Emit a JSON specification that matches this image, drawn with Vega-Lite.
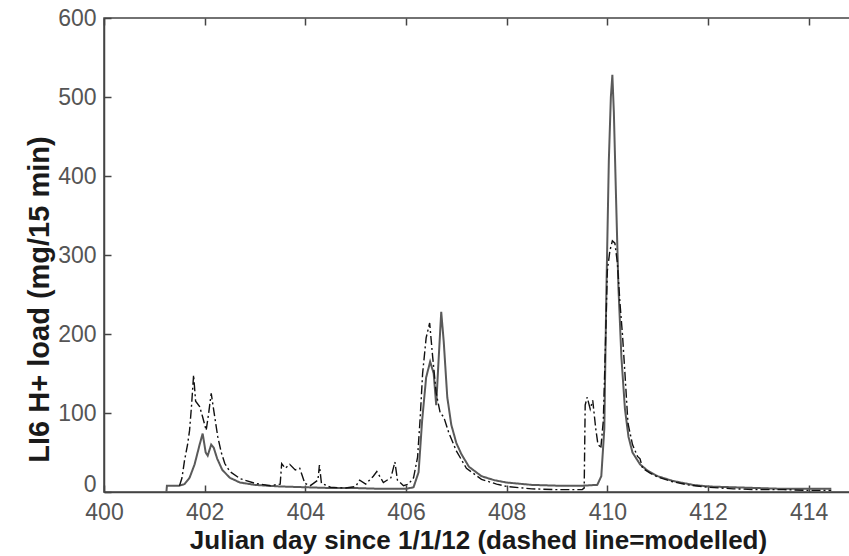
{
  "$schema": "https://vega.github.io/schema/vega-lite/v6.json",
  "width": 755,
  "height": 474,
  "autosize": "none",
  "padding": {"left": 104, "top": 18, "right": 0, "bottom": 64},
  "background": "white",
  "config": {
    "view": {"stroke": "#444", "strokeWidth": 1.5},
    "font": "Liberation Sans",
    "axis": {
      "grid": false,
      "domainColor": "#444",
      "domainWidth": 1.5,
      "tickColor": "#444",
      "tickWidth": 1.5,
      "tickSize": -7,
      "labelFont": "Liberation Sans",
      "labelFontSize": 23,
      "labelColor": "#555",
      "titleFont": "Liberation Sans",
      "titleFontWeight": "bold",
      "titleColor": "#1a1a1a"
    }
  },
  "data": {
    "values": [
      {"series": "observed", "day": 401.24, "load": 0},
      {"series": "observed", "day": 401.25, "load": 8},
      {"series": "observed", "day": 401.5, "load": 8},
      {"series": "observed", "day": 401.6, "load": 10},
      {"series": "observed", "day": 401.7, "load": 18},
      {"series": "observed", "day": 401.8, "load": 35},
      {"series": "observed", "day": 401.9, "load": 60},
      {"series": "observed", "day": 401.96, "load": 74},
      {"series": "observed", "day": 402.02, "load": 50},
      {"series": "observed", "day": 402.06, "load": 46},
      {"series": "observed", "day": 402.13, "load": 60},
      {"series": "observed", "day": 402.18, "load": 56},
      {"series": "observed", "day": 402.25, "load": 42},
      {"series": "observed", "day": 402.35, "load": 28},
      {"series": "observed", "day": 402.5, "load": 18},
      {"series": "observed", "day": 402.7, "load": 12},
      {"series": "observed", "day": 403.0, "load": 9},
      {"series": "observed", "day": 403.5, "load": 7},
      {"series": "observed", "day": 404.0, "load": 6},
      {"series": "observed", "day": 404.5, "load": 5},
      {"series": "observed", "day": 405.0, "load": 5},
      {"series": "observed", "day": 405.5, "load": 4},
      {"series": "observed", "day": 406.0, "load": 4},
      {"series": "observed", "day": 406.15, "load": 6},
      {"series": "observed", "day": 406.25, "load": 25},
      {"series": "observed", "day": 406.32, "load": 90},
      {"series": "observed", "day": 406.4, "load": 145},
      {"series": "observed", "day": 406.48, "load": 165},
      {"series": "observed", "day": 406.55, "load": 150},
      {"series": "observed", "day": 406.6, "load": 110},
      {"series": "observed", "day": 406.65, "load": 170},
      {"series": "observed", "day": 406.7, "load": 228},
      {"series": "observed", "day": 406.75, "load": 190},
      {"series": "observed", "day": 406.82, "load": 120},
      {"series": "observed", "day": 406.9, "load": 85},
      {"series": "observed", "day": 407.0, "load": 62},
      {"series": "observed", "day": 407.1, "load": 48},
      {"series": "observed", "day": 407.25, "load": 32},
      {"series": "observed", "day": 407.5, "load": 20},
      {"series": "observed", "day": 407.75, "load": 15},
      {"series": "observed", "day": 408.0, "load": 12},
      {"series": "observed", "day": 408.5, "load": 9},
      {"series": "observed", "day": 409.0, "load": 8},
      {"series": "observed", "day": 409.5, "load": 8},
      {"series": "observed", "day": 409.8, "load": 9},
      {"series": "observed", "day": 409.88, "load": 20},
      {"series": "observed", "day": 409.94, "load": 80},
      {"series": "observed", "day": 409.98, "load": 250},
      {"series": "observed", "day": 410.03, "load": 420},
      {"series": "observed", "day": 410.07, "load": 500},
      {"series": "observed", "day": 410.1, "load": 528},
      {"series": "observed", "day": 410.13, "load": 480},
      {"series": "observed", "day": 410.17, "load": 380},
      {"series": "observed", "day": 410.22, "load": 260},
      {"series": "observed", "day": 410.28, "load": 170},
      {"series": "observed", "day": 410.35, "load": 105},
      {"series": "observed", "day": 410.42, "load": 70},
      {"series": "observed", "day": 410.5, "load": 50},
      {"series": "observed", "day": 410.65, "load": 35},
      {"series": "observed", "day": 410.8, "load": 27},
      {"series": "observed", "day": 411.0, "load": 20},
      {"series": "observed", "day": 411.3, "load": 14},
      {"series": "observed", "day": 411.7, "load": 9},
      {"series": "observed", "day": 412.0, "load": 7},
      {"series": "observed", "day": 412.5, "load": 6},
      {"series": "observed", "day": 413.0, "load": 5},
      {"series": "observed", "day": 413.5, "load": 4},
      {"series": "observed", "day": 414.0, "load": 4},
      {"series": "observed", "day": 414.45, "load": 4},

      {"series": "modelled", "day": 401.5, "load": 8},
      {"series": "modelled", "day": 401.55, "load": 18},
      {"series": "modelled", "day": 401.6, "load": 40},
      {"series": "modelled", "day": 401.66, "load": 60},
      {"series": "modelled", "day": 401.7, "load": 78},
      {"series": "modelled", "day": 401.74, "load": 110},
      {"series": "modelled", "day": 401.78, "load": 148},
      {"series": "modelled", "day": 401.82, "load": 115},
      {"series": "modelled", "day": 401.9, "load": 108},
      {"series": "modelled", "day": 401.96, "load": 95},
      {"series": "modelled", "day": 402.03, "load": 78},
      {"series": "modelled", "day": 402.08, "load": 100},
      {"series": "modelled", "day": 402.13, "load": 125},
      {"series": "modelled", "day": 402.2, "load": 95},
      {"series": "modelled", "day": 402.26, "load": 70},
      {"series": "modelled", "day": 402.33, "load": 50},
      {"series": "modelled", "day": 402.4, "load": 36},
      {"series": "modelled", "day": 402.5, "load": 26},
      {"series": "modelled", "day": 402.7, "load": 17},
      {"series": "modelled", "day": 403.0, "load": 11},
      {"series": "modelled", "day": 403.3, "load": 8},
      {"series": "modelled", "day": 403.5, "load": 10},
      {"series": "modelled", "day": 403.53, "load": 36},
      {"series": "modelled", "day": 403.6, "load": 30},
      {"series": "modelled", "day": 403.69, "load": 35},
      {"series": "modelled", "day": 403.8, "load": 28},
      {"series": "modelled", "day": 403.89, "load": 30},
      {"series": "modelled", "day": 403.99, "load": 11},
      {"series": "modelled", "day": 404.1, "load": 8},
      {"series": "modelled", "day": 404.25, "load": 15},
      {"series": "modelled", "day": 404.28, "load": 34},
      {"series": "modelled", "day": 404.32, "load": 11},
      {"series": "modelled", "day": 404.5, "load": 6},
      {"series": "modelled", "day": 404.8, "load": 5},
      {"series": "modelled", "day": 405.0, "load": 7},
      {"series": "modelled", "day": 405.08, "load": 15},
      {"series": "modelled", "day": 405.2, "load": 10},
      {"series": "modelled", "day": 405.35, "load": 20},
      {"series": "modelled", "day": 405.42, "load": 26},
      {"series": "modelled", "day": 405.55, "load": 12},
      {"series": "modelled", "day": 405.7, "load": 18},
      {"series": "modelled", "day": 405.78, "load": 38},
      {"series": "modelled", "day": 405.83, "load": 15},
      {"series": "modelled", "day": 405.95, "load": 8},
      {"series": "modelled", "day": 406.05, "load": 10},
      {"series": "modelled", "day": 406.15, "load": 18},
      {"series": "modelled", "day": 406.23, "load": 44},
      {"series": "modelled", "day": 406.28, "load": 92},
      {"series": "modelled", "day": 406.33, "load": 150},
      {"series": "modelled", "day": 406.4, "load": 195},
      {"series": "modelled", "day": 406.47, "load": 214},
      {"series": "modelled", "day": 406.53, "load": 171},
      {"series": "modelled", "day": 406.6, "load": 125},
      {"series": "modelled", "day": 406.68, "load": 100},
      {"series": "modelled", "day": 406.75, "load": 95},
      {"series": "modelled", "day": 406.85, "load": 75},
      {"series": "modelled", "day": 407.0, "load": 52},
      {"series": "modelled", "day": 407.2, "load": 30},
      {"series": "modelled", "day": 407.5, "load": 16},
      {"series": "modelled", "day": 407.8, "load": 10},
      {"series": "modelled", "day": 408.0, "load": 7},
      {"series": "modelled", "day": 408.5, "load": 4},
      {"series": "modelled", "day": 409.0, "load": 3},
      {"series": "modelled", "day": 409.5, "load": 3},
      {"series": "modelled", "day": 409.54, "load": 5},
      {"series": "modelled", "day": 409.56, "load": 110},
      {"series": "modelled", "day": 409.6, "load": 120},
      {"series": "modelled", "day": 409.66, "load": 105},
      {"series": "modelled", "day": 409.71, "load": 116},
      {"series": "modelled", "day": 409.77, "load": 80},
      {"series": "modelled", "day": 409.81, "load": 62},
      {"series": "modelled", "day": 409.87, "load": 55},
      {"series": "modelled", "day": 409.92, "load": 90},
      {"series": "modelled", "day": 409.96, "load": 180},
      {"series": "modelled", "day": 410.0, "load": 280},
      {"series": "modelled", "day": 410.05, "load": 305},
      {"series": "modelled", "day": 410.1, "load": 318},
      {"series": "modelled", "day": 410.15, "load": 315},
      {"series": "modelled", "day": 410.2, "load": 290},
      {"series": "modelled", "day": 410.25, "load": 240},
      {"series": "modelled", "day": 410.3, "load": 200},
      {"series": "modelled", "day": 410.35, "load": 150},
      {"series": "modelled", "day": 410.41, "load": 87},
      {"series": "modelled", "day": 410.5, "load": 60},
      {"series": "modelled", "day": 410.6, "load": 45},
      {"series": "modelled", "day": 410.65, "load": 42},
      {"series": "modelled", "day": 410.7, "load": 30},
      {"series": "modelled", "day": 410.85, "load": 24},
      {"series": "modelled", "day": 411.0, "load": 19},
      {"series": "modelled", "day": 411.3, "load": 13},
      {"series": "modelled", "day": 411.6, "load": 9},
      {"series": "modelled", "day": 412.0, "load": 6},
      {"series": "modelled", "day": 412.5, "load": 4},
      {"series": "modelled", "day": 413.0, "load": 3},
      {"series": "modelled", "day": 413.5, "load": 3},
      {"series": "modelled", "day": 414.0, "load": 2},
      {"series": "modelled", "day": 414.45, "load": 2}
    ]
  },
  "layer": [
    {
      "mark": {"type": "line", "clip": true},
      "encoding": {
        "x": {
          "field": "day",
          "type": "quantitative",
          "scale": {"domain": [400, 415], "nice": false},
          "axis": {
            "values": [400, 402, 404, 406, 408, 410, 412, 414],
            "labelFlush": false,
            "labelPadding": 16,
            "title": "Julian day since 1/1/12 (dashed line=modelled)",
            "titleFontSize": 26,
            "titlePadding": 3,
            "titleX": 374
          }
        },
        "y": {
          "field": "load",
          "type": "quantitative",
          "scale": {"domain": [0, 600], "nice": false},
          "axis": {
            "values": [0, 100, 200, 300, 400, 500, 600],
            "labelPadding": 15,
            "labelOffset": {"condition": {"test": "datum.value === 0", "value": -8}, "value": 0},
            "title": "LI6 H+ load (mg/15 min)",
            "titleFontSize": 29,
            "titlePadding": 3,
            "titleY": 281
          }
        },
        "color": {
          "field": "series",
          "type": "nominal",
          "scale": {"domain": ["observed", "modelled"], "range": ["#5a5a5a", "#111111"]},
          "legend": null
        },
        "strokeDash": {
          "field": "series",
          "type": "nominal",
          "scale": {"domain": ["observed", "modelled"], "range": [[1, 0], [9, 3, 2, 3]]},
          "legend": null
        },
        "strokeWidth": {
          "field": "series",
          "type": "nominal",
          "scale": {"domain": ["observed", "modelled"], "range": [2, 1.4]},
          "legend": null
        },
        "order": {"field": "day", "type": "quantitative"}
      }
    },
    {
      "mark": {"type": "point", "opacity": 0},
      "encoding": {
        "x": {
          "field": "day",
          "type": "quantitative",
          "axis": {
            "orient": "top",
            "values": [400, 402, 404, 406, 408, 410, 412, 414],
            "labels": false,
            "domain": false,
            "title": null
          }
        }
      }
    }
  ],
  "resolve": {"axis": {"x": "independent"}}
}
